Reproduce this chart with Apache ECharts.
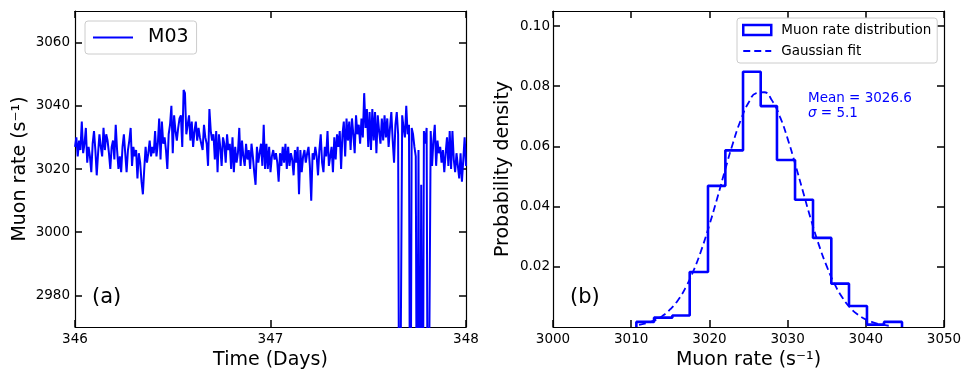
<!DOCTYPE html>
<html>
<head>
<meta charset="utf-8">
<script src="https://cdn.jsdelivr.net/npm/echarts@6/dist/echarts.min.js"></script>
<style>
  html, body { margin: 0; padding: 0; background: #fff; }
  #chart { width: 972px; height: 381px; }
</style>
</head>
<body>
<div id="chart"></div>
<script>
// (a) M03 muon rate, one sample every 10 minutes from day 346 to day 348
const timeStart = 346;
const timeStep = 1 / 144;
const rateM03 = [
  3027, 3030, 3024, 3029, 3026, 3035, 3025, 3028, 3033, 3022,
  3027, 3024, 3019, 3028, 3032, 3026, 3018, 3025, 3031, 3027,
  3024, 3033, 3026, 3031, 3029, 3025, 3020, 3027, 3029, 3023,
  3034, 3026, 3020, 3024, 3019, 3027, 3031, 3025, 3019, 3026,
  3029, 3033, 3021, 3027, 3024, 3026, 3017, 3025, 3022, 3016,
  3012, 3020, 3027, 3022, 3025, 3029, 3024, 3027, 3025, 3032,
  3024, 3028, 3036, 3023, 3035, 3028, 3030, 3026, 3020, 3031,
  3034, 3040, 3025, 3037, 3032, 3029, 3033, 3036, 3037, 3027,
  3045, 3044, 3031, 3034, 3037, 3029, 3035, 3027, 3032, 3035,
  3029, 3033, 3030, 3028, 3026, 3034, 3030, 3028, 3021, 3039,
  3032, 3029, 3031, 3023, 3032, 3019, 3031, 3027, 3021, 3030,
  3028, 3022, 3031, 3026, 3028, 3020, 3030, 3019, 3027, 3022,
  3025, 3033, 3021, 3029, 3024, 3021, 3028, 3023, 3026, 3020,
  3028, 3024, 3019, 3015, 3027, 3022, 3025, 3028, 3021, 3034,
  3020, 3028, 3020, 3027, 3019, 3024, 3026, 3023, 3025, 3022,
  3016, 3025, 3021, 3027, 3022, 3028, 3020, 3027, 3021, 3025,
  3023, 3018, 3026, 3022, 3027, 3012, 3026, 3019, 3024, 3026,
  3022, 3025, 3027, 3021, 3010, 3025, 3023, 3027, 3024, 3018,
  3026, 3031, 3022, 3019, 3027, 3024, 3032, 3021, 3024, 3027,
  3019, 3030, 3023, 3031, 3027, 3032, 3020, 3031, 3035, 3024,
  3036, 3029, 3035, 3026, 3036, 3031, 3025, 3037, 3031, 3034,
  3028, 3036, 3030, 3044, 3033, 3039, 3027, 3038, 3026, 3039,
  3029, 3038, 3025, 3037, 3032, 3028, 3036, 3029, 3037, 3030,
  3036, 3027, 3033, 3038, 3029, 3022, 3034, 3038, 3031, 2900,
  2900, 3037, 3033, 3030, 3040, 3031, 3034, 2900, 3033, 3031,
  3027, 3024, 2900, 3026, 2900, 3015, 2900, 3032, 3028, 3033,
  2900, 2900, 3032, 3021, 3029, 3034, 3021, 3029, 3025, 3027,
  3022, 3026, 3019, 3025, 3030, 3021, 3032, 3020, 3032, 3023,
  3019, 3025, 3021, 3017, 3025, 3016, 3023, 3030, 3021
];
const rateTicks = [2980, 3000, 3020, 3040, 3060];

// (b) histogram of the rate (density) and its gaussian fit
const binEdges = [3010.66, 3012.92, 3015.26, 3017.48, 3019.82, 3022.04, 3024.30, 3026.56,
  3028.64, 3030.95, 3033.25, 3035.59, 3037.85, 3040.15, 3042.33, 3044.63];
const binDensity = [0.0017, 0.0031, 0.0038, 0.0183, 0.0469, 0.0587, 0.0848, 0.0734,
  0.0555, 0.0423, 0.0296, 0.0144, 0.0070, 0.0008, 0.0017];
const fitRate = [3011, 3012, 3013, 3014, 3015, 3016, 3017, 3018, 3019, 3020, 3021,
  3022, 3023, 3024, 3025, 3026, 3027, 3028, 3029, 3030, 3031, 3032, 3033, 3034,
  3035, 3036, 3037, 3038, 3039, 3040, 3041, 3042, 3043];
const fitDensity = [0.0007, 0.0013, 0.0022, 0.0037, 0.0059, 0.0090, 0.0133, 0.0189,
  0.0258, 0.0339, 0.0428, 0.0521, 0.0610, 0.0687, 0.0745, 0.0777, 0.0780, 0.0753,
  0.0700, 0.0626, 0.0539, 0.0447, 0.0356, 0.0273, 0.0202, 0.0143, 0.0098, 0.0064,
  0.0041, 0.0025, 0.0015, 0.0008, 0.0004];
const densityTicks = [0.02, 0.04, 0.06, 0.08, 0.10];

const FONT = "DejaVu Sans";
const BLUE = "#0000ff";

const lineData = rateM03.map((v, i) => [timeStart + i * timeStep, v]);

// step outline of the histogram
const histData = [[binEdges[0], 0]];
binDensity.forEach((d, i) => histData.push([binEdges[i], d]));
histData.push([binEdges[binEdges.length - 1], binDensity[binDensity.length - 1]]);
histData.push([binEdges[binEdges.length - 1], 0]);

const fitData = fitRate.map((x, i) => [x, fitDensity[i]]);

const frameLine = { show: true, onZero: false, lineStyle: { color: "#000", width: 1.2 } };
const tickIn = { show: true, inside: true, length: 7, lineStyle: { color: "#000", width: 1.5 } };
const labelStyle = { color: "#000", fontSize: 13.5, fontFamily: FONT };
const nameStyle = { color: "#000", fontSize: 19, fontFamily: FONT };
const plain = v => String(v);

let chart = echarts.init(document.getElementById("chart"));
chart.setOption({
  animation: false,
  backgroundColor: "#fff",
  grid: [
    { left: 75, top: 11, width: 391, height: 316 },
    { left: 553, top: 11, width: 391, height: 316 }
  ],
  xAxis: [
    {
      gridIndex: 0, type: "value", min: 346, max: 348, interval: 1, position: "bottom",
      name: "Time (Days)", nameLocation: "middle", nameGap: 21, nameTextStyle: nameStyle,
      axisLine: frameLine, axisTick: tickIn, splitLine: { show: false },
      axisLabel: Object.assign({ margin: 5, formatter: plain }, labelStyle)
    },
    {
      gridIndex: 0, type: "value", min: 346, max: 348, interval: 1, position: "top",
      axisLine: frameLine, axisTick: tickIn, splitLine: { show: false }, axisLabel: { show: false }
    },
    {
      gridIndex: 1, type: "value", min: 3000, max: 3050, interval: 10, position: "bottom",
      name: "Muon rate (s⁻¹)", nameLocation: "middle", nameGap: 21, nameTextStyle: nameStyle,
      axisLine: frameLine, axisTick: tickIn, splitLine: { show: false },
      axisLabel: Object.assign({ margin: 5, formatter: plain }, labelStyle)
    },
    {
      gridIndex: 1, type: "value", min: 3000, max: 3050, interval: 10, position: "top",
      axisLine: frameLine, axisTick: tickIn, splitLine: { show: false }, axisLabel: { show: false }
    }
  ],
  yAxis: [
    {
      gridIndex: 0, type: "value", min: 2970, max: 3070, position: "left",
      name: "Muon rate (s⁻¹)", nameLocation: "middle", nameGap: 45, nameTextStyle: nameStyle,
      axisLine: frameLine, splitLine: { show: false },
      axisTick: Object.assign({ customValues: rateTicks }, tickIn),
      axisLabel: Object.assign({ margin: 5, customValues: rateTicks, formatter: plain }, labelStyle)
    },
    {
      gridIndex: 0, type: "value", min: 2970, max: 3070, position: "right",
      axisLine: frameLine, splitLine: { show: false },
      axisTick: Object.assign({ customValues: rateTicks }, tickIn), axisLabel: { show: false }
    },
    {
      gridIndex: 1, type: "value", min: 0, max: 0.105, position: "left",
      name: "Probability density", nameLocation: "middle", nameGap: 40, nameTextStyle: nameStyle,
      axisLine: frameLine, splitLine: { show: false },
      axisTick: Object.assign({ customValues: densityTicks }, tickIn),
      axisLabel: Object.assign({ margin: 3, customValues: densityTicks, formatter: v => v.toFixed(2) }, labelStyle)
    },
    {
      gridIndex: 1, type: "value", min: 0, max: 0.105, position: "right",
      axisLine: frameLine, splitLine: { show: false },
      axisTick: Object.assign({ customValues: densityTicks }, tickIn), axisLabel: { show: false }
    }
  ],
  legend: [
    {
      data: [{ name: "M03", itemStyle: { opacity: 0 }, lineStyle: { width: 2 } }],
      left: 85, top: 21, itemWidth: 40, itemHeight: 14,
      padding: [7, 8, 7, 7], backgroundColor: "#fff", borderColor: "#cccccc",
      borderWidth: 1, borderRadius: 3,
      textStyle: { color: "#000", fontSize: 19, fontFamily: FONT, padding: [0, 0, 0, 10] }
    },
    {
      data: [
        { name: "Muon rate distribution", icon: "rect",
          itemStyle: { color: "rgba(0,0,0,0)", borderColor: BLUE, borderWidth: 2.5 } },
        { name: "Gaussian fit", itemStyle: { opacity: 0 } }
      ],
      orient: "vertical", left: 737, top: 18, itemWidth: 28, itemHeight: 10, itemGap: 7,
      padding: [5, 6, 5, 5], backgroundColor: "#fff", borderColor: "#cccccc",
      borderWidth: 1, borderRadius: 3,
      textStyle: { color: "#000", fontSize: 13.5, fontFamily: FONT, padding: [0, 0, 0, 5] }
    }
  ],
  graphic: [
    { type: "text", left: 92, top: 287, style: { text: "(a)", fontSize: 21, fontFamily: FONT, fill: "#000" } },
    { type: "text", left: 570, top: 287, style: { text: "(b)", fontSize: 21, fontFamily: FONT, fill: "#000" } },
    { type: "text", left: 808, top: 91, style: { text: "Mean = 3026.6", fontSize: 13.5, fontFamily: FONT, fill: BLUE } },
    {
      type: "text", left: 808, top: 106,
      style: {
        text: "{i|σ} = 5.1", fontSize: 13.5, fontFamily: FONT, fill: BLUE,
        rich: { i: { fontStyle: "italic", fontSize: 13.5, fontFamily: FONT, fill: BLUE } }
      }
    }
  ],
  series: [
    {
      name: "M03", type: "line", xAxisIndex: 0, yAxisIndex: 0, data: lineData,
      symbol: "none", clip: true, color: BLUE, lineStyle: { color: BLUE, width: 2 }
    },
    {
      name: "Muon rate distribution", type: "line", xAxisIndex: 2, yAxisIndex: 2, data: histData,
      step: "end", symbol: "none", color: BLUE, lineStyle: { color: BLUE, width: 2.6 }
    },
    {
      name: "Gaussian fit", type: "line", xAxisIndex: 2, yAxisIndex: 2, data: fitData,
      smooth: true, symbol: "none", color: BLUE,
      lineStyle: { color: BLUE, width: 1.8, type: [7, 4] }
    }
  ]
});
window.addEventListener("resize", () => chart.resize());
</script>
</body>
</html>
